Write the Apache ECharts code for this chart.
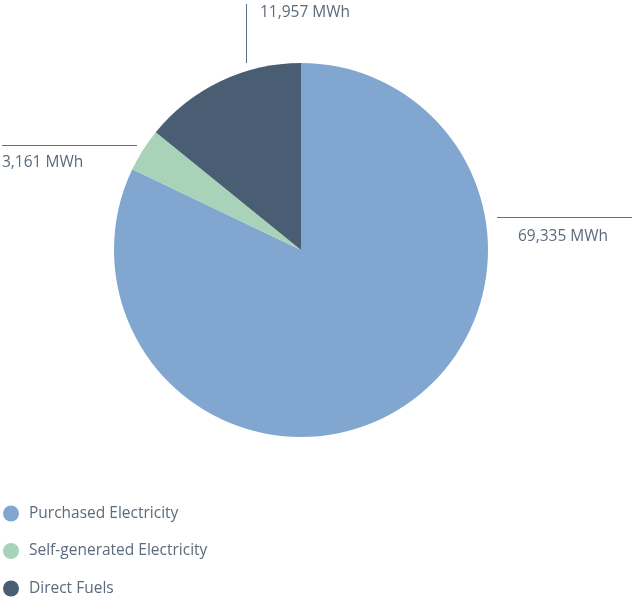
<!DOCTYPE html>
<html><head><meta charset="utf-8">
<script src="https://cdn.jsdelivr.net/npm/echarts@6/dist/echarts.min.js"></script>
<style>html,body{margin:0;padding:0;background:#fff}#c{width:636px;height:598px}</style>
</head><body><div id="c"></div>
<script>
const categories = ["Purchased Electricity", "Self-generated Electricity", "Direct Fuels"];
const values = [69335, 3161, 11957];
const labels = ["69,335 MWh", "3,161 MWh", "11,957 MWh"];
const colors = ["#81a7d1", "#a8d3b9", "#4a5e73"];

const FONT = "Open Sans";
const TEXT = "#5b6b7c";
const LINE = "#5f7081";

// label placement (label positions only)
const labelPos = [
  {x: 518, y: 237, align: 'left', pts: [[497, 217.5], [565, 217.5], [632, 217.5]]},
  {x: 2, y: 163, align: 'left', pts: [[2, 145.5], [70, 145.5], [137, 145.5]]},
  {x: 260, y: 12.5, align: 'left', pts: [[246.5, 4], [246.5, 34], [246.5, 63]]}
];

const chart = echarts.init(document.getElementById('c'), null, {renderer: 'canvas'});
chart.setOption({
  animation: false,
  color: colors,
  legend: {
    orient: 'vertical', left: 3, top: 505.5, height: 92, padding: 0,
    icon: 'circle', itemWidth: 16, itemHeight: 16, itemGap: 21.5,
    textStyle: {fontFamily: FONT, fontSize: 15.5, color: TEXT, padding: [0, 0, 0, 5]},
    data: categories
  },
  series: [{
    type: 'pie',
    center: [301, 250],
    radius: [0, 187],
    startAngle: 90,
    clockwise: true,
    data: categories.map((n, i) => ({name: n, value: values[i]})),
    label: {
      show: true,
      formatter: p => labels[p.dataIndex],
      fontFamily: FONT, fontSize: 15.5, color: TEXT
    },
    labelLine: {show: true, lineStyle: {color: LINE, width: 1}},
    labelLayout: function (p) {
      const l = labelPos[p.dataIndex];
      return {x: l.x, y: l.y, align: l.align, verticalAlign: 'middle', labelLinePoints: l.pts};
    },
    emphasis: {disabled: true}
  }]
});
</script>
</body></html>
